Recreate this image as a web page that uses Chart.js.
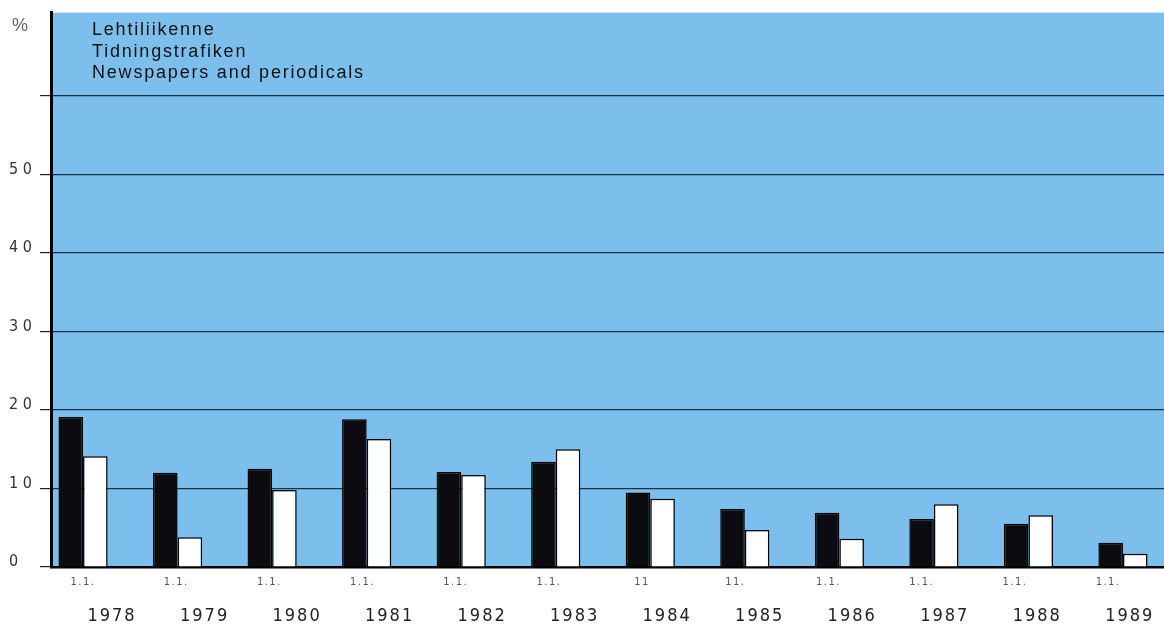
<!DOCTYPE html>
<html>
<head>
<meta charset="utf-8">
<script src="https://cdn.jsdelivr.net/npm/chart.js@4.4.1/dist/chart.umd.min.js"></script>
<style>
  html, body { margin: 0; padding: 0; background: #fff; }
  #wrap { position: relative; width: 1164px; height: 627px; }
  canvas { position: absolute; left: 0; top: 0; }
  .unit { position: absolute; left: 12px; top: 16px; font-family: "Liberation Sans", Arial, sans-serif; font-size: 18px; line-height: 18px; color: #666; }
  .title { position: absolute; left: 92px; top: 19px; font-family: "Liberation Sans", Arial, sans-serif; font-size: 18px; letter-spacing: 1.8px; line-height: 21.5px; color: #111; }
</style>
</head>
<body>
<div id="wrap">
  <canvas id="chart" width="1164" height="627"></canvas>
  <div class="unit">%</div>
  <div class="title">Lehtiliikenne<br>Tidningstrafiken<br>Newspapers and periodicals</div>
</div>
<script>
// years on the x axis, with the small "1.1." date line above them
const years = ['1978', '1979', '1980', '1981', '1982', '1983', '1984', '1985', '1986', '1987', '1988', '1989'];
const dateLabels = ['1.1.', '1.1.', '1.1.', '1.1.', '1.1.', '1.1.', '11', '11.', '1.1.', '1.1.', '1.1.', '1.1.'];

// % values
const darkValues = [19.1, 12.0, 12.5, 18.8, 12.1, 13.4, 9.5, 7.4, 6.9, 6.1, 5.5, 3.1];
const lightValues = [14.1, 3.8, 9.8, 16.3, 11.7, 15.0, 8.7, 4.7, 3.6, 8.0, 6.6, 1.7];

// y axis
const yTicks = [0, 10, 20, 30, 40, 50, 60];
const yTickLabels = ['0', '10', '20', '30', '40', '50', ''];

const BLUE = 'rgb(124,191,236)';

// letter spacing per axis (old typeset look)
const tickSpacing = { y: 4.5, x1: 1.5, x2: 2 };

const spacedTicks = {
    id: 'spacedTicks',
    afterLayout(chart) {
        Object.values(chart.scales).forEach(scale => {
            if (scale._spaced) return;
            const drawLabels = scale.drawLabels;
            scale.drawLabels = function (area) {
                const ctx = this.ctx;
                ctx.save();
                ctx.letterSpacing = (tickSpacing[this.id] || 0) + 'px';
                drawLabels.call(this, area);
                ctx.restore();
            };
            scale._spaced = true;
        });
    }
};

const plotBackground = {
    id: 'plotBackground',
    beforeDraw(chart) {
        const { ctx, chartArea } = chart;
        ctx.save();
        ctx.fillStyle = BLUE;
        ctx.fillRect(chartArea.left, chartArea.top, chartArea.right - chartArea.left, chartArea.bottom - chartArea.top);
        ctx.restore();
    }
};

function indexTicks(scale) {
    scale.ticks = years.map((_, i) => ({ value: i }));
}

new Chart(document.getElementById('chart').getContext('2d'), {
    type: 'bar',
    data: {
        datasets: [{
            label: 'dark',
            data: darkValues.map((v, i) => ({ x: i, y: v })),
            backgroundColor: '#0b0b10',
            borderColor: '#000',
            borderWidth: 1.5
        }, {
            label: 'light',
            data: lightValues.map((v, i) => ({ x: i, y: v })),
            backgroundColor: '#fff',
            borderColor: '#000',
            borderWidth: 1.5
        }]
    },
    options: {
        responsive: false,
        animation: false,
        devicePixelRatio: 1,
        categoryPercentage: 0.52,
        barPercentage: 1,
        layout: { padding: { left: 9, top: 10, right: 0, bottom: 0 } },
        plugins: { legend: { display: false }, tooltip: { enabled: false } },
        scales: {
            x: {
                type: 'linear',
                offset: false,
                min: -0.339,
                max: 11.434,
                weight: 0,
                ticks: { display: false },
                grid: { offset: false, drawOnChartArea: false, drawTicks: false },
                border: { display: true, color: '#000', width: 2.5 },
                afterFit: s => { s.height = 0; }
            },
            x1: {
                type: 'linear',
                position: 'bottom',
                offset: false,
                min: -0.343,
                max: 11.6,
                weight: 1,
                afterBuildTicks: indexTicks,
                ticks: {
                    callback: (v, i) => dateLabels[i],
                    autoSkip: false,
                    maxRotation: 0,
                    padding: 9,
                    color: '#555',
                    font: { family: 'DejaVu Sans Condensed', size: 11 }
                },
                grid: { display: false, offset: false, drawTicks: false },
                border: { display: false },
                afterFit: s => { s.height = 26; }
            },
            x2: {
                type: 'linear',
                position: 'bottom',
                offset: false,
                min: -0.66,
                max: 11.37,
                weight: 2,
                afterBuildTicks: indexTicks,
                ticks: {
                    callback: (v, i) => years[i],
                    autoSkip: false,
                    maxRotation: 0,
                    padding: 13,
                    color: '#222',
                    font: { family: "'Liberation Sans Narrow', 'DejaVu Sans Condensed', sans-serif", size: 18 }
                },
                grid: { display: false, offset: false, drawTicks: false },
                border: { display: false },
                afterFit: s => { s.height = 34; }
            },
            y: {
                min: 0,
                max: 70.6,
                afterBuildTicks: s => { s.ticks = yTicks.map(v => ({ value: v })); },
                ticks: {
                    callback: (v, i) => yTickLabels[i],
                    crossAlign: 'far',
                    labelOffset: -5,
                    color: '#333',
                    font: { family: 'DejaVu Sans Condensed', size: 16 }
                },
                grid: { color: '#1d3240', lineWidth: 1.2, tickLength: 11, tickColor: '#222' },
                border: { display: true, color: '#000', width: 3 },
                afterFit: s => { s.width = 42; }
            }
        }
    },
    plugins: [plotBackground, spacedTicks]
});
</script>
</body>
</html>
